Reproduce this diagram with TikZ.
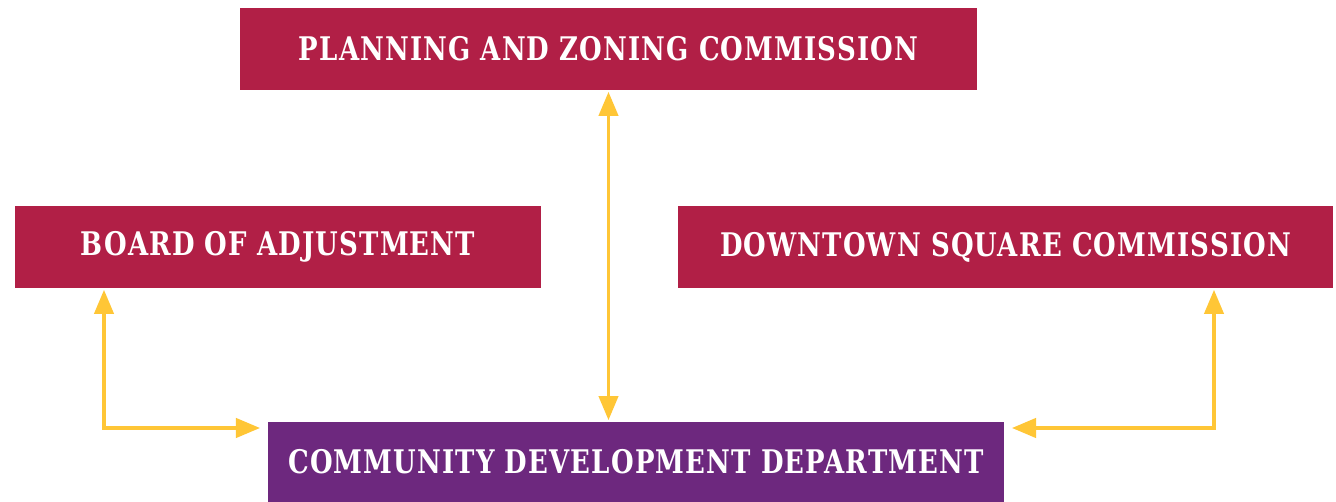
\documentclass[tikz,border=0pt]{standalone}
\usepackage{fontspec}
\newfontfamily\boxfont{DejaVu Serif}[FakeStretch=0.8,LetterSpace=3.5]
\usetikzlibrary{arrows}
\definecolor{crimson}{HTML}{B11F46}
\definecolor{plum}{HTML}{6D287E}
\definecolor{gold}{HTML}{FFC636}
\tikzset{
  board/.style={fill=crimson,text=white,inner sep=0pt,minimum height=1.64cm,
    font=\boxfont\bfseries\fontsize{18.5}{22}\selectfont},
  dept/.style={board,fill=plum,minimum height=1.6cm},
  link/.style={draw=gold,line width=2.2pt,triangle 45-triangle 45}
}
\begin{document}
\begin{tikzpicture}[x=0.02cm,y=-0.02cm]
  \useasboundingbox[fill=white] (0,0) rectangle (1336,502);
  \node[board,minimum width=14.74cm] (plan) at (608.5,49) {PLANNING AND ZONING COMMISSION};
  \node[board,minimum width=10.52cm] (adj) at (278,247) {BOARD OF ADJUSTMENT};
  \node[board,minimum width=13.1cm] (dsc) at (1005.5,247) {DOWNTOWN SQUARE COMMISSION};
  \node[dept,minimum width=14.72cm] (cdd) at (636,462) {COMMUNITY DEVELOPMENT DEPARTMENT};
  \coordinate (lbend) at (104,428);
  \coordinate (rbend) at (1214,428);
  \draw[link,shorten <=1pt,shorten >=1pt] (plan.south) -- (plan.south |- cdd.north);
  \draw[link,shorten <=1pt,shorten >=4.5pt] (adj.south -| lbend) -- (lbend) -- (cdd.west |- lbend);
  \draw[link,shorten <=1pt,shorten >=4.5pt] (dsc.south -| rbend) -- (rbend) -- (cdd.east |- rbend);
\end{tikzpicture}
\end{document}
